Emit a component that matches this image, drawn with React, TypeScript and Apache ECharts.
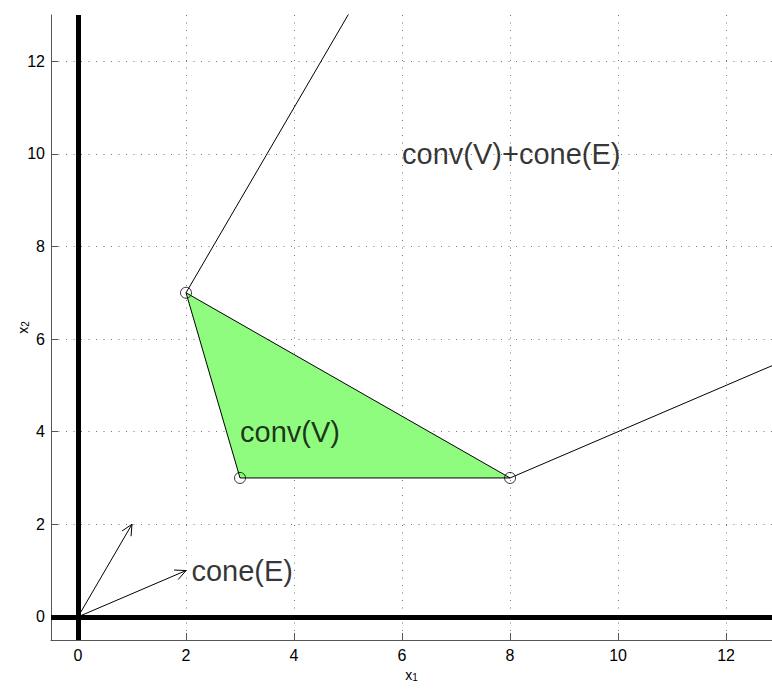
import React, { useEffect, useRef } from 'react';
import * as echarts from 'echarts';

// ---- data ----
const xTicks = [0, 2, 4, 6, 8, 10, 12];
const yTicks = [0, 2, 4, 6, 8, 10, 12];
const xRange = [-0.5, 12.85];
const yRange = [-0.5, 13];

// vertices of conv(V)
const vertices: number[][] = [[2, 7], [3, 3], [8, 3]];
// extreme directions E
const directions: number[][] = [[1, 2], [2, 1]];
// which vertex each ray starts from
const rayStartIndex = [0, 2];

const annotationTexts = ['conv(V)+cone(E)', 'conv(V)', 'cone(E)'];
const annotationPos: number[][] = [[6, 10], [3, 4], [2.1, 1]];

const FONT = "'Liberation Sans', Arial, Helvetica, sans-serif";

const App: React.FC = () => {
  const ref = useRef<HTMLDivElement>(null);

  useEffect(() => {
    if (!ref.current) return;
    const chart = echarts.init(ref.current, undefined, { renderer: 'svg' });

    const rayFar = 20;
    const raySeries = rayStartIndex.map((vi, i) => {
      const s = vertices[vi];
      const d = directions[i];
      return {
        type: 'line',
        data: [s, [s[0] + rayFar * d[0], s[1] + rayFar * d[1]]],
        showSymbol: false,
        symbol: 'none',
        clip: true,
        lineStyle: { color: '#000', width: 1 },
        z: 3,
        silent: true,
      };
    });

    const arrowData = directions.map((d) => [0, 0, d[0], d[1]]);

    const labelFormatter = (v: number) =>
      Math.abs(v - Math.round(v)) < 1e-9 && Math.round(v) % 2 === 0 ? String(v) : '';

    const nameRich = {
      a: { fontSize: 14, fontFamily: FONT, color: '#000', verticalAlign: 'top', lineHeight: 14 },
      b: { fontSize: 10, fontFamily: FONT, color: '#000', verticalAlign: 'bottom', lineHeight: 10, padding: [9, 0, 0, 0] },
    };

    const gridLine = { color: '#777', type: [1, 6.5], width: 1 };

    const option: any = {
      animation: false,
      backgroundColor: '#fff',
      grid: { left: 51, top: 15, right: 0, bottom: 50, containLabel: false, outerBoundsMode: 'none' },
      xAxis: {
        type: 'value',
        min: xRange[0],
        max: xRange[1],
        minInterval: 2,
        maxInterval: 2,
        name: '{a|x}{b|1}',
        nameLocation: 'middle',
        nameGap: 28,
        nameMoveOverlap: false,
        nameTextStyle: { rich: nameRich },
        axisLine: { show: true, onZero: false, lineStyle: { color: '#555', width: 1 } },
        axisTick: { show: true, inside: true, length: 7, customValues: xTicks, lineStyle: { color: '#555' } },
        axisLabel: {
          customValues: xTicks,
          color: '#000',
          fontSize: 16,
          fontFamily: FONT,
          margin: 7,
          formatter: labelFormatter,
        },
        splitLine: { show: true, lineStyle: gridLine },
      },
      yAxis: {
        type: 'value',
        min: yRange[0],
        max: yRange[1],
        minInterval: 2,
        maxInterval: 2,
        name: '{a|x}{b|2}',
        nameLocation: 'middle',
        nameGap: 21,
        nameMoveOverlap: false,
        nameTextStyle: { rich: nameRich },
        axisLine: { show: true, onZero: false, lineStyle: { color: '#555', width: 1 } },
        axisTick: { show: true, inside: true, length: 7, customValues: yTicks, lineStyle: { color: '#555' } },
        axisLabel: {
          customValues: yTicks,
          color: '#000',
          fontSize: 16,
          fontFamily: FONT,
          margin: 6,
          formatter: labelFormatter,
        },
        splitLine: { show: true, lineStyle: gridLine },
      },
      series: [
        {
          type: 'custom',
          data: vertices,
          encode: { x: 0, y: 1 },
          clip: true,
          z: 2,
          silent: true,
          renderItem: (params: any, api: any) => {
            if (params.dataIndex !== 0) return null;
            const pts = vertices.map((v) => api.coord(v));
            return {
              type: 'polygon',
              shape: { points: pts },
              style: { fill: '#8ffb7f', stroke: '#000', lineWidth: 1 },
            };
          },
        },
        ...raySeries,
        {
          type: 'line',
          data: [],
          silent: true,
          z: 4,
          markLine: {
            silent: true,
            symbol: ['none', 'none'],
            label: { show: false },
            lineStyle: { color: '#000', width: 5, type: 'solid' },
            emphasis: { disabled: true },
            data: [{ xAxis: 0 }, { yAxis: 0 }],
          },
        },
        {
          type: 'custom',
          data: arrowData,
          encode: { x: [0, 2], y: [1, 3] },
          clip: true,
          z: 5,
          silent: true,
          renderItem: (params: any, api: any) => {
            const p0 = api.coord([api.value(0), api.value(1)]);
            const p1 = api.coord([api.value(2), api.value(3)]);
            const ang = Math.atan2(p1[1] - p0[1], p1[0] - p0[0]);
            const L = 12;
            const a = Math.PI / 7;
            const w1 = [p1[0] - L * Math.cos(ang - a), p1[1] - L * Math.sin(ang - a)];
            const w2 = [p1[0] - L * Math.cos(ang + a), p1[1] - L * Math.sin(ang + a)];
            return {
              type: 'group',
              children: [
                { type: 'line', shape: { x1: p0[0], y1: p0[1], x2: p1[0], y2: p1[1] }, style: { stroke: '#000', lineWidth: 1 } },
                { type: 'polyline', shape: { points: [w1, p1, w2] }, style: { stroke: '#000', fill: 'none', lineWidth: 1 } },
              ],
            };
          },
        },
        {
          type: 'scatter',
          data: vertices,
          symbol: 'circle',
          symbolSize: 11,
          itemStyle: { color: 'rgba(0,0,0,0)', borderColor: '#000', borderWidth: 1 },
          z: 6,
          silent: true,
        },
        {
          type: 'scatter',
          data: annotationPos.map((p, i) => ({ value: p, name: annotationTexts[i] })),
          symbolSize: 0,
          z: 10,
          silent: true,
          label: {
            show: true,
            position: 'right',
            distance: 0,
            formatter: '{b}',
            fontSize: 29,
            color: '#000',
            fontFamily: FONT,
          },
        },
      ],
    };

    chart.setOption(option);
    return () => chart.dispose();
  }, []);

  return (
    <div
      ref={ref}
      style={{ position: 'absolute', left: 0, top: 0, width: 772, height: 690 }}
    />
  );
};

export default App;
